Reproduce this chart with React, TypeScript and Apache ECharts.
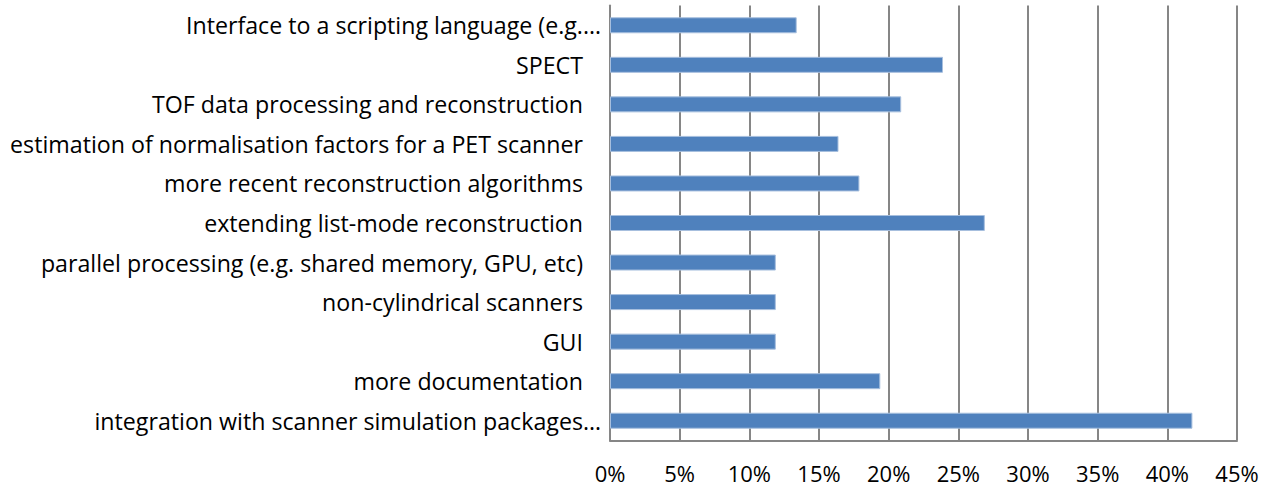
import React, { useEffect, useRef } from "react";
import * as echarts from "echarts";

const categories = [
  "Interface to a scripting language (e.g.…",
  "SPECT",
  "TOF data processing and reconstruction",
  "estimation of normalisation factors for a PET scanner",
  "more recent reconstruction algorithms",
  "extending list-mode reconstruction",
  "parallel processing (e.g. shared memory, GPU, etc)",
  "non-cylindrical scanners",
  "GUI",
  "more documentation",
  "integration with scanner simulation packages…",
];

const values = [0.134, 0.239, 0.209, 0.164, 0.179, 0.269, 0.119, 0.119, 0.119, 0.194, 0.418];

const xTicks = { min: 0, max: 0.45, interval: 0.05 };

const FONT = "Open Sans";
const FS = 23.2;

export default function App() {
  const ref = useRef<HTMLDivElement>(null);
  useEffect(() => {
    if (!ref.current) return;
    const chart = echarts.init(ref.current, null, { renderer: "svg" });
    chart.setOption({
      animation: false,
      backgroundColor: "#ffffff",
      grid: { left: 610, right: 40, top: 5.5, bottom: 47.5, containLabel: false },
      xAxis: {
        type: "value",
        min: xTicks.min,
        max: xTicks.max,
        interval: xTicks.interval,
        axisLine: { show: true, lineStyle: { color: "#868686", width: 2 } },
        axisTick: { show: false },
        splitLine: { show: true, lineStyle: { color: "#868686", width: 2 } },
        axisLabel: {
          margin: 21,
          color: "#000",
          fontFamily: FONT,
          fontSize: 22,
          formatter: (v: number) => `${Math.round(v * 100)}%`,
        },
      },
      yAxis: {
        type: "category",
        data: categories,
        inverse: true,
        axisLine: { show: true, lineStyle: { color: "#868686", width: 2 } },
        axisTick: { show: false },
        axisLabel: {
          margin: 9,
          interval: 0,
          color: "#000",
          fontFamily: FONT,
          fontSize: FS,
          formatter: (v: string) => (v.endsWith("…") ? `{t|${v}}` : `{p|${v}}`),
          rich: {
            t: { fontFamily: FONT, fontSize: FS, color: "#000" },
            p: { fontFamily: FONT, fontSize: FS, color: "#000", padding: [0, 18, 0, 0] },
          },
        },
      },
      series: [
        {
          type: "bar",
          data: values,
          barWidth: 16,
          itemStyle: { color: "#4F81BD", borderColor: "#A7BFDE", borderWidth: 1 },
        },
      ],
    });
    return () => chart.dispose();
  }, []);
  return (
    <div
      ref={ref}
      style={{ position: "fixed", left: 0, top: 0, width: 1277, height: 488 }}
    />
  );
}
